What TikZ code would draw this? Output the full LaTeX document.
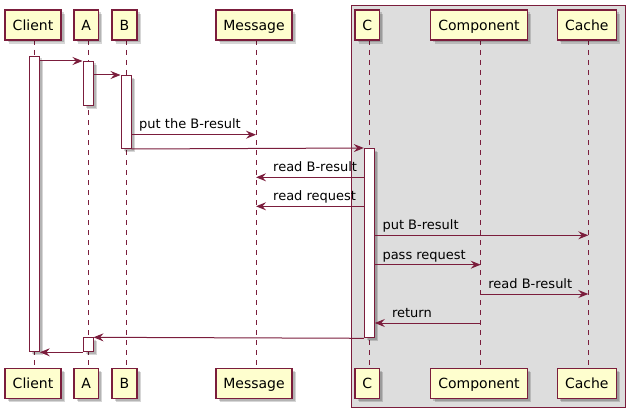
\documentclass[tikz,border=0pt]{standalone}
\usepackage{fontspec}
\setmainfont{DejaVu Sans}
\usetikzlibrary{arrows.meta,calc}
\definecolor{umlline}{HTML}{7B1D3C}
\definecolor{umlfill}{HTML}{FEFECE}
\definecolor{grpfill}{HTML}{DDDDDD}
\tikzset{
  part/.style={draw=umlline, line width=1.4pt, fill=umlfill, inner sep=0pt,
    minimum height=30pt, text height=10.2pt, text depth=0pt,
    font=\fontsize{14}{16}\selectfont, text=black},
  act/.style={draw=umlline, line width=1pt, fill=white, inner sep=0pt,
    minimum width=10pt, anchor=north},
  shadowbox/.style={fill=black, opacity=0.16, draw=none},
  lifeline/.style={draw=umlline, line width=1pt, dash pattern=on 5pt off 5pt},
  msg/.style={draw=umlline, line width=1pt,
    -{Stealth[length=10pt,width=8pt,inset=3.5pt]}},
  lbl/.style={font=\fontsize{13}{15}\selectfont, text=black, inner sep=0pt},
}
\begin{document}
\begin{tikzpicture}[x=1pt,y=-1pt]
\useasboundingbox (0,0) rectangle (629,412);
% group box
\draw[umlline, line width=1pt, fill=grpfill] (351.7,6) rectangle (625,407.3);

% lifeline x positions
\def\xCl{34.3}\def\xA{88}\def\xB{126}\def\xM{256}\def\xC{369.3}\def\xCo{480.7}\def\xCa{588.3}

% lifelines
\foreach \x in {\xCl,\xA,\xB,\xM,\xC,\xCo,\xCa}{
  \draw[lifeline] (\x,40) -- (\x,368.3);
}

% participant shadows and boxes
\foreach \l/\r/\t/\n in {5/61/Client/Client, 74/98.3/A/A, 112/137/B/B, 216/292/Message/Message,
                         355/379.3/C/C, 430.7/527.3/Component/Component, 557.3/616.3/Cache/Cache}{
  \fill[shadowbox] (\l+2.5,12.5) rectangle (\r+2.5,42.5);
  \fill[shadowbox] (\l+4,14) rectangle (\r+4,44);
  \fill[shadowbox] (\l+2.5,370.8) rectangle (\r+2.5,400.8);
  \fill[shadowbox] (\l+4,372.3) rectangle (\r+4,402.3);
  \pgfmathsetmacro{\w}{\r-\l}
  \node[part, minimum width=\w pt] (top\n) at ({(\l+\r)/2},25) {\t};
  \node[part, minimum width=\w pt] (bot\n) at ({(\l+\r)/2},383.3) {\t};
}

% activation shadows
\foreach \x/\a/\b in {\xCl/55.7/351.3, \xA/61/105, \xB/75/148, \xC/148/337.3, \xA/337.3/351.3}{
  \fill[shadowbox] (\x-5+2.5,\a+2.5) rectangle (\x+5+2.5,\b+2.5);
  \fill[shadowbox] (\x-5+4,\a+4) rectangle (\x+5+4,\b+4);
}
% activations
\node[act, minimum height=295.6pt] (actCl) at (\xCl,55.7) {};
\node[act, minimum height=44pt] (actA1) at (\xA,61) {};
\node[act, minimum height=73pt] (actB) at (\xB,75) {};
\node[act, minimum height=189.3pt] (actC) at (\xC,148) {};
\node[act, minimum height=14pt] (actA2) at (\xA,337.3) {};

% message anchor points on lifelines
\coordinate (m3) at (\xM,134.7);
\coordinate (m5) at (\xM,177.3);
\coordinate (m6) at (\xM,206.3);
\coordinate (m7) at (\xCa,235.3);
\coordinate (m8) at (\xCo,264.7);
\coordinate (m9s) at (\xCo,294);
\coordinate (m9e) at (\xCa,294);
\coordinate (m10) at (\xCo,323);

% messages
\draw[msg] (actCl.east |- actA1.north) -- (actA1.north west);
\draw[msg] (actA1.east |- actB.north) -- (actB.north west);
\draw[msg] (actB.east |- m3) -- (m3);
\node[lbl, anchor=base west] (l3) at ($(actB.east |- m3)+(7.5,-6)$) {put the B-result};
\draw[msg] (actB.south east) -- (actC.north west);
\draw[msg] (actC.west |- m5) -- (m5);
\node[lbl, anchor=base west] (l5) at ($(m5)+(17,-5.5)$) {read B-result};
\draw[msg] (actC.west |- m6) -- (m6);
\node[lbl, anchor=base west] (l6) at ($(m6)+(17,-5.5)$) {read request};
\draw[msg] (actC.east |- m7) -- (m7);
\node[lbl, anchor=base west] (l7) at ($(actC.east |- m7)+(7.5,-5.5)$) {put B-result};
\draw[msg] (actC.east |- m8) -- (m8);
\node[lbl, anchor=base west] (l8) at ($(actC.east |- m8)+(7.5,-5.5)$) {pass request};
\draw[msg] (m9s) -- (m9e);
\node[lbl, anchor=base west] (l9) at ($(m9s)+(7.5,-5.5)$) {read B-result};
\draw[msg] (m10) -- (actC.east |- m10);
\node[lbl, anchor=base west] (l10) at ($(actC.east |- m10)+(17,-5.5)$) {return};
\draw[msg] (actC.south west) -- (actA2.north east);
\draw[msg] (actA2.south west) -- (actCl.south east);
\end{tikzpicture}
\end{document}
